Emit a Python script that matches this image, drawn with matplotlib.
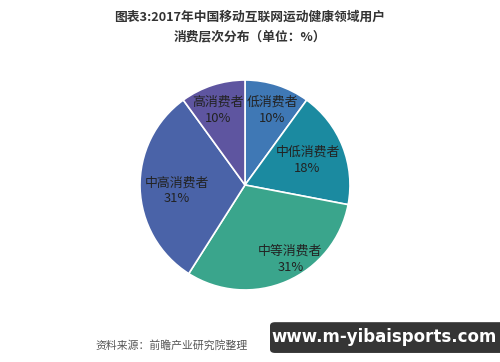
import numpy as np
import matplotlib
matplotlib.use('Agg')
import matplotlib.pyplot as plt
from matplotlib.patches import FancyBboxPatch

plt.rcParams['font.family'] = ['Noto Sans CJK SC', 'DejaVu Sans']

labels = ['低消费者', '中低消费者', '中等消费者', '中高消费者', '高消费者']
values = [10, 18, 31, 31, 10]
colors = ['#3f78b5', '#1b8aa0', '#3aa58c', '#4a63a8', '#5e55a0']
# label placement inside each wedge: radius and angle offset (deg)
label_r = [0.76, 0.64, 0.83, 0.65, 0.76]
label_da = [-2, 0, 8, 3, 2]

fig = plt.figure(figsize=(5, 3.62), dpi=100)
ax = fig.add_axes([0.28, 0.199, 0.42, 0.58])

wedges, _ = ax.pie(values, colors=colors, startangle=90, counterclock=False,
                   wedgeprops=dict(edgecolor='white', linewidth=1.2))
ax.set_xlim(-1, 1)
ax.set_ylim(-1, 1)
ax.set_aspect('equal')

for w, lab, v, r, da in zip(wedges, labels, values, label_r, label_da):
    ang = np.deg2rad((w.theta1 + w.theta2) / 2 + da)
    ax.text(r * np.cos(ang), r * np.sin(ang), lab + '\n' + str(v) + '%',
            ha='center', va='center', fontsize=9.3, color='#222222', linespacing=1.3)

fig.text(0.5, 0.953, '图表3:2017年中国移动互联网运动健康领域用户', ha='center', va='center',
         fontsize=9.2, fontweight='bold', color='#333333')
fig.text(0.5, 0.898, '消费层次分布（单位：%）', ha='center', va='center',
         fontsize=9.2, fontweight='bold', color='#333333')

fig.text(0.19, 0.047, '资料来源：前瞻产业研究院整理', ha='left', va='center',
         fontsize=7.8, style='italic', color='#555555')

# banner bottom right
box = FancyBboxPatch((0.54, 0.025), 0.47, 0.085, boxstyle='round,pad=0,rounding_size=0.01',
                     transform=fig.transFigure, facecolor='#111111', edgecolor='none', alpha=0.85)
fig.patches.append(box)
fig.text(0.768, 0.068, 'www.m-yibaisports.com', ha='center', va='center',
         fontsize=12, fontweight='bold', color='white', family='DejaVu Sans')

fig.savefig('out.png', dpi=100)
